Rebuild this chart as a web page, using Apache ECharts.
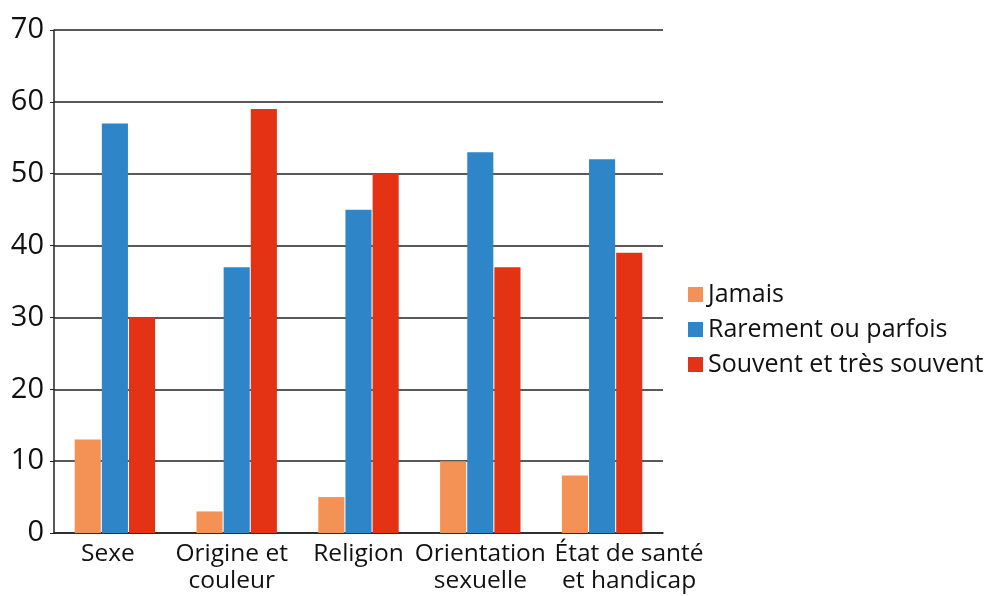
<!DOCTYPE html>
<html><head><meta charset="utf-8">
<script src="https://cdn.jsdelivr.net/npm/echarts@6/dist/echarts.min.js"></script>
<style>html,body{margin:0;padding:0;background:#fff}#c{width:985px;height:596px}</style>
</head><body><div id="c"></div>
<script>
const categories = ['Sexe', 'Origine et\ncouleur', 'Religion', 'Orientation\nsexuelle', 'État de santé\net handicap'];
const seriesNames = ['Jamais', 'Rarement ou parfois', 'Souvent et très souvent'];
const jamais = [13, 3, 5, 10, 8];
const rarement = [57, 37, 45, 53, 52];
const souvent = [30, 59, 50, 37, 39];
const colors = ['#F39254', '#2E86C9', '#E33214'];
const FONT = 'Open Sans';

// small horizontal nudges so the wide labels do not collide (as in the reference)
const labelPads = [[0, 14, 0, 0], [0, 10, 0, 0], [0, 0, 0, 0], [0, 0, 0, 0], [0, 0, 0, 54]];
const catData = categories.map((c, i) => ({ value: c, textStyle: { padding: labelPads[i] } }));

const chart = echarts.init(document.getElementById('c'));
chart.setOption({
  animation: false,
  color: colors,
  textStyle: { fontFamily: FONT },
  grid: { left: 54, right: 322, top: 30, bottom: 63, containLabel: false },
  legend: {
    orient: 'vertical', left: 683, top: 277, itemWidth: 15, itemHeight: 15, itemGap: 10,
    icon: 'rect',
    textStyle: { fontSize: 25, lineHeight: 25, color: '#111', fontFamily: FONT },
    data: seriesNames
  },
  xAxis: {
    type: 'category', data: catData,
    axisLine: { lineStyle: { color: '#222', width: 1.5 } },
    axisTick: { show: false },
    axisLabel: { color: '#111', fontSize: 24.5, lineHeight: 27, margin: 8, interval: 0, fontFamily: FONT }
  },
  yAxis: {
    type: 'value', min: 0, max: 70, interval: 10,
    axisLine: { show: true, lineStyle: { color: '#222', width: 1.5 } },
    axisTick: { show: true, length: 4, lineStyle: { color: '#222' } },
    splitLine: { lineStyle: { color: '#222', width: 1.5 } },
    axisLabel: { color: '#111', fontSize: 29, margin: 10, fontFamily: FONT }
  },
  series: [
    { name: seriesNames[0], type: 'bar', data: jamais, barGap: '4%', barCategoryGap: '34%' },
    { name: seriesNames[1], type: 'bar', data: rarement, barGap: '4%', barCategoryGap: '34%' },
    { name: seriesNames[2], type: 'bar', data: souvent, barGap: '4%', barCategoryGap: '34%' }
  ]
});
</script></body></html>
